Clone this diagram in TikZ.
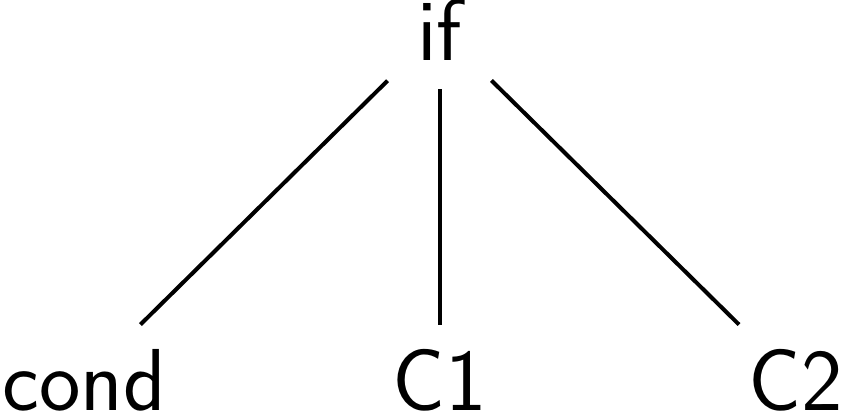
\documentclass[tikz,border=0pt]{standalone}
\usepackage{tikz}

\begin{document}
\begin{tikzpicture}[x=1pt, y=1pt,
            leaf/.style={inner sep=0pt, outer xsep=29.5pt, outer ysep=25pt,
                         font=\sffamily\fontsize{88}{104}\selectfont},
            edge/.style={line width=4pt}]
            \useasboundingbox (0,0) rectangle (842,417);

            % raiz
            \node[leaf, outer ysep=29pt] (root) at (439.5, 387.5) {if};

            % filhos
            \node[leaf] (cond) at (84, 36.5)    {cond};
            \node[leaf] (c1)   at (439.5, 36.5) {C1};
            \node[leaf] (c2)   at (795.5, 36.5) {C2};

            % arestas
            \draw[edge] (root) -- (cond);
            \draw[edge] (root) -- (c1);
            \draw[edge] (root) -- (c2);
        \end{tikzpicture}
\end{document}
